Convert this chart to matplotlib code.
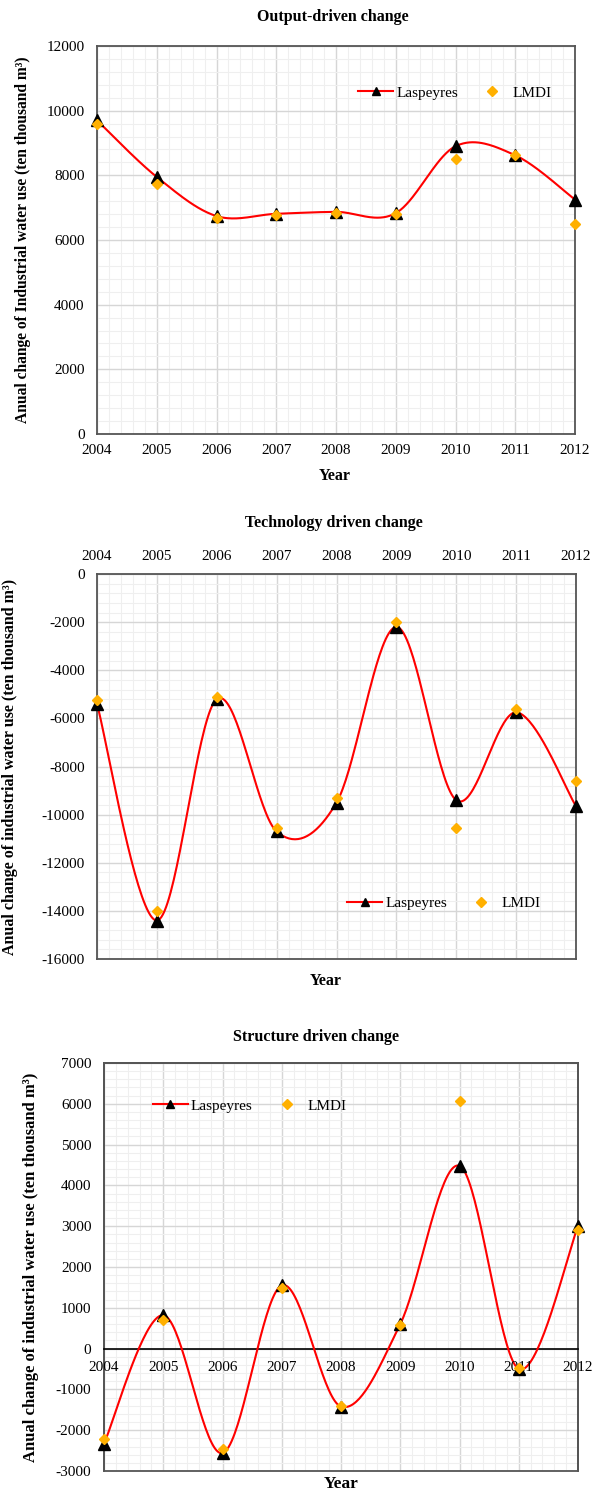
import numpy as np
import matplotlib
matplotlib.use("Agg")
import matplotlib.pyplot as plt
from matplotlib.lines import Line2D
from matplotlib.patches import Rectangle
from matplotlib.ticker import MultipleLocator
from matplotlib.transforms import offset_copy

plt.rcParams['font.family'] = ['Liberation Serif', 'DejaVu Serif']
plt.rcParams['axes.unicode_minus'] = False

# ---------------- data ----------------
years = [2004, 2005, 2006, 2007, 2008, 2009, 2010, 2011, 2012]

output_lasp = [9700, 7950, 6740, 6810, 6870, 6830, 8900, 8620, 7250]
output_lmdi = [9600, 7730, 6690, 6770, 6850, 6790, 8500, 8620, 6500]

tech_lasp = [-5400, -14400, -5200, -10700, -9500, -2200, -9400, -5750, -9650]
tech_lmdi = [-5250, -14000, -5100, -10550, -9300, -2000, -10550, -5600, -8600]

struct_lasp = [-2330, 820, -2560, 1550, -1420, 600, 4480, -500, 3000]
struct_lmdi = [-2220, 700, -2460, 1490, -1400, 570, 6080, -480, 2900]

titles = ["Output-driven change", "Technology driven change", "Structure driven change"]
ylabel_p1 = "Anual change of Industrial water use (ten thousand m\u00b3)"
ylabel_p23 = "Anual change of industrial water use (ten thousand m\u00b3)"
series_names = ["Laspeyres", "LMDI"]

# ---------------- styling ----------------
W, H = 598, 1493
RED = '#FF0000'
GOLD = '#FFB000'
FRAME = '#555555'


def smooth(x, y, n=40):
    """Excel-style smoothed line (Bezier segments through the points)."""
    x = np.asarray(x, float)
    y = np.asarray(y, float)
    P = np.column_stack([x, y])
    Pe = np.vstack([P[0], P, P[-1]])
    out = []
    t = np.linspace(0, 1, n)[:, None]
    for i in range(len(P) - 1):
        p0, p1, p2, p3 = Pe[i], Pe[i + 1], Pe[i + 2], Pe[i + 3]
        c1 = p1 + (p2 - p0) / 6.0
        c2 = p2 - (p3 - p1) / 6.0
        seg = ((1 - t) ** 3) * p1 + 3 * ((1 - t) ** 2) * t * c1 + 3 * (1 - t) * t ** 2 * c2 + t ** 3 * p2
        out.append(seg if i == 0 else seg[1:])
    out = np.vstack(out)
    return out[:, 0], out[:, 1]


def add_axes(fig, left, right, top, bottom):
    return fig.add_axes([left / W, 1 - bottom / H, (right - left) / W, (bottom - top) / H])


def style(ax, ymin, ymax, ymajor):
    ax.set_xlim(years[0], years[-1])
    ax.set_ylim(ymin, ymax)
    ax.xaxis.set_major_locator(MultipleLocator(1))
    ax.xaxis.set_minor_locator(MultipleLocator(0.2))
    ax.yaxis.set_major_locator(MultipleLocator(ymajor))
    ax.yaxis.set_minor_locator(MultipleLocator(ymajor / 5))
    ax.grid(which='minor', color='#efefef', lw=0.8, zorder=0)
    ax.grid(which='major', color='#d6d6d6', lw=1.0, zorder=0)
    ax.set_axisbelow(True)
    ax.tick_params(which='both', length=0, labelsize=11)
    ax.tick_params(axis='y', pad=9)
    ax.set_xticks(years)
    ax.set_xticklabels([str(y) for y in years])
    for s in ax.spines.values():
        s.set_color(FRAME)
        s.set_linewidth(1.3)


def draw(ax, lasp, lmdi):
    xs, ys = smooth(years, lasp)
    ax.plot(xs, ys, color=RED, lw=1.5, zorder=3, clip_on=False)
    ax.plot(years, lasp, ls='none', marker='^', ms=9, color='black', zorder=4, clip_on=False)
    ax.plot(years, lmdi, ls='none', marker='D', ms=5, color=GOLD, zorder=5, clip_on=False)


def legend(ax, x, y):
    h1 = Line2D([], [], color=RED, lw=1.5, marker='^', ms=6, mfc='black', mec='black')
    h2 = Line2D([], [], ls='none', marker='D', ms=5, color=GOLD)
    ax.legend([h1, h2], series_names, loc='center left', bbox_to_anchor=(x, y),
              ncol=2, frameon=False, fontsize=11, handlelength=2.3, handletextpad=0.2,
              columnspacing=1.1, borderpad=0, borderaxespad=0)


def ftext(fig, x, y, s, size=11.5):
    fig.text(x / W, 1 - y / H, s, ha='center', va='center', fontsize=size, fontweight='bold')


fig = plt.figure(figsize=(W / 100, H / 100), dpi=100)
fig.patch.set_facecolor('white')

# ---------------- panel 1 ----------------
ax1 = add_axes(fig, 97, 575, 46, 434)
style(ax1, 0, 12000, 2000)
ax1.tick_params(axis='x', pad=7)
draw(ax1, output_lasp, output_lmdi)
legend(ax1, 0.546, 0.879)
ax1.set_ylabel(ylabel_p1, fontsize=11.2, fontweight='bold')
ax1.yaxis.set_label_coords(-0.138, 0.5)
ftext(fig, 333, 17, titles[0])
ftext(fig, 335, 476, "Year")

# ---------------- panel 2 ----------------
ax2 = add_axes(fig, 97, 576, 574, 959)
style(ax2, -16000, 0, 2000)
ax2.xaxis.tick_top()
ax2.tick_params(axis='x', pad=8)
draw(ax2, tech_lasp, tech_lmdi)
legend(ax2, 0.522, 0.145)
ax2.set_ylabel(ylabel_p23, fontsize=11.5, fontweight='bold')
ax2.yaxis.set_label_coords(-0.165, 0.5)
ftext(fig, 334, 523, titles[1])
ftext(fig, 326, 981, "Year")

# ---------------- panel 3 ----------------
ax3 = add_axes(fig, 104, 578, 1063, 1471)
style(ax3, -3000, 7000, 1000)
ax3.spines['bottom'].set_position(('data', 0))
ax3.spines['bottom'].set_color('black')
ax3.spines['bottom'].set_linewidth(1.2)
ax3.add_patch(Rectangle((0, 0), 1, 1, transform=ax3.transAxes, fill=False,
                        ec=FRAME, lw=1.3, clip_on=False, zorder=2))
ax3.tick_params(axis='x', labelbottom=False)
lab_tr = offset_copy(ax3.transData, fig=fig, x=0, y=-19, units='dots')
for yr in years:
    ax3.text(yr, 0, str(yr), transform=lab_tr, ha='center', va='center',
             fontsize=11, zorder=3.5, clip_on=False)
draw(ax3, struct_lasp, struct_lmdi)
legend(ax3, 0.103, 0.895)
ax3.set_ylabel(ylabel_p23, fontsize=12, fontweight='bold')
ax3.yaxis.set_label_coords(-0.138, 0.5)
ftext(fig, 316, 1037, titles[2])
ftext(fig, 341, 1484, "Year", size=12.5)

fig.savefig("out.png", dpi=100, facecolor='white')
